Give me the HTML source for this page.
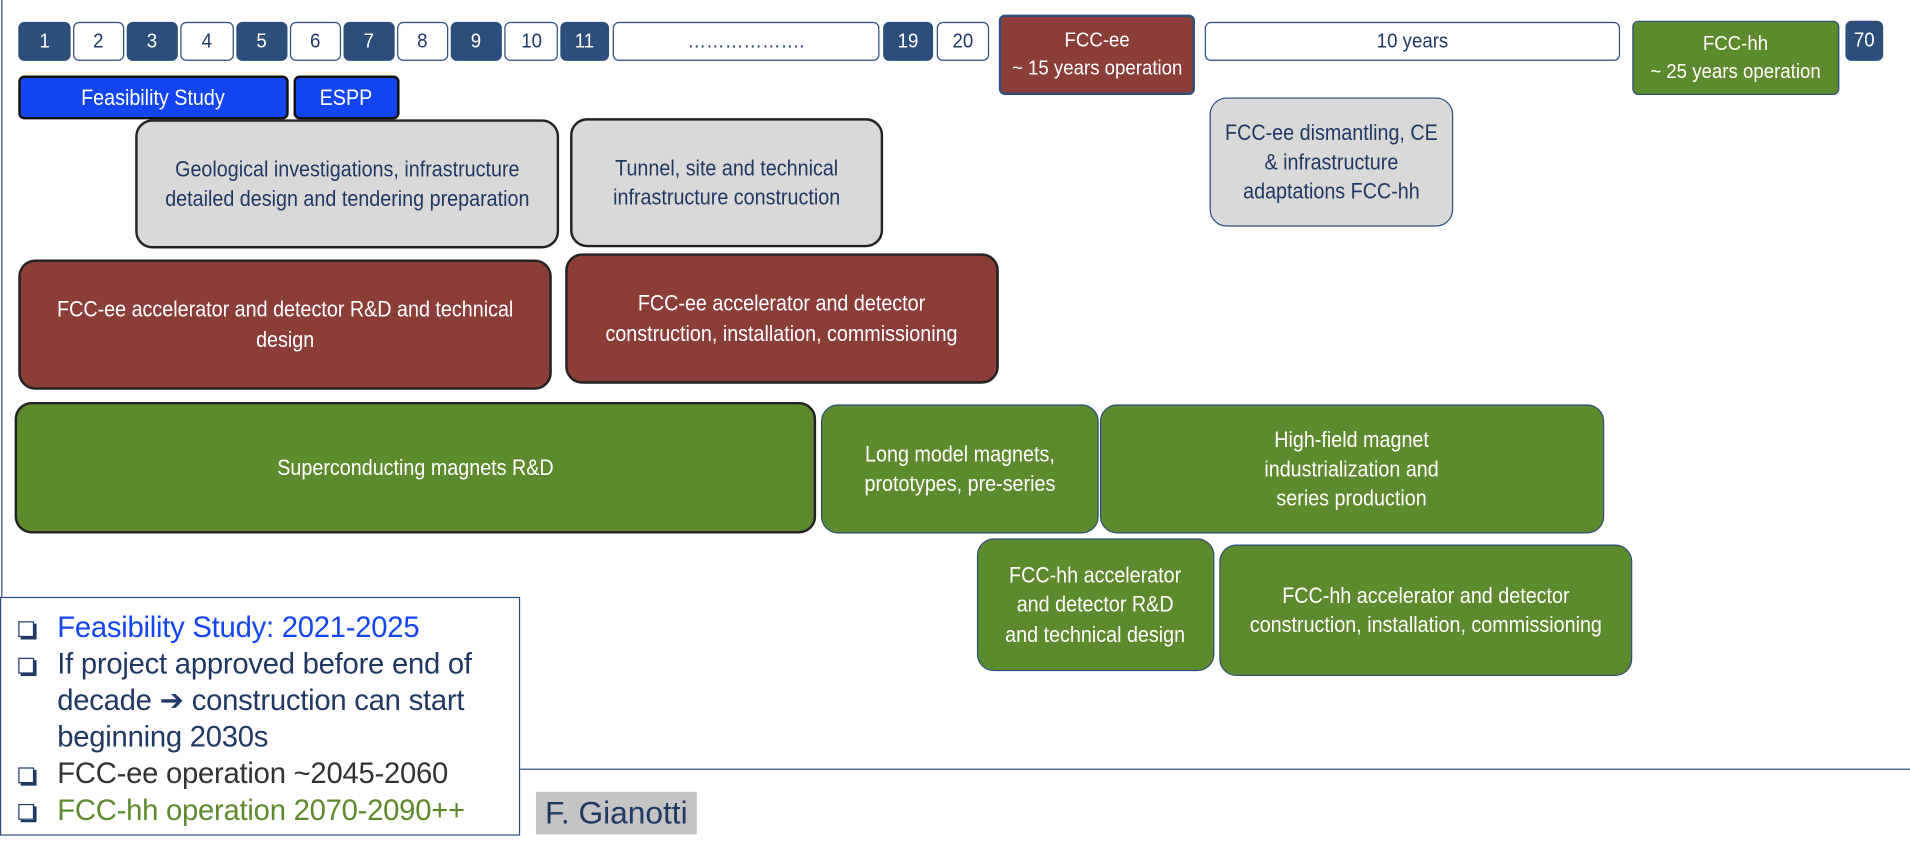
<!DOCTYPE html>
<html><head><meta charset="utf-8"><style>
html,body{margin:0;padding:0;background:#fff;width:1910px;height:840px;overflow:hidden}
#c{position:absolute;left:0;top:0;width:1568px;height:690px;transform:scale(1.2181);transform-origin:0 0;font-family:"Liberation Sans",sans-serif}
.b{position:absolute;box-sizing:border-box;display:flex;align-items:center;justify-content:center;text-align:center;border-radius:8px;line-height:1.35}
.b span{display:inline-block;transform:scaleX(.9);white-space:nowrap}
.d{background:#2d4e7a;color:#fff;border:1.5px solid #2d4e7a;font-size:17px;top:18px;height:32px;border-radius:5px}
.w{background:#fff;color:#1f3864;border:1.5px solid #2d4e7a;font-size:17px;top:18px;height:32px;border-radius:5px}
.g{background:#d9d9d9;color:#1f3864;border:2px solid #222;font-size:18px}
.r{background:#8b3d38;color:#fff;border:2px solid #222;font-size:18px}
.gr{background:#5e8a2e;color:#fff;border:1.5px solid #2d4e7a;font-size:18px}
.bl{background:#1346f0;color:#fff;border:2px solid #111;font-size:18px;border-radius:5px}
.leg{position:absolute;left:0;top:490px;width:427px;height:196px;box-sizing:border-box;border:1px solid #2d4e7a;font-family:"Liberation Sans",sans-serif;font-size:24px;line-height:30px;padding:10px 0 0 12px}
.leg div{position:relative;padding-left:34px;letter-spacing:-0.2px}
.leg div:before{content:"";position:absolute;left:2px;top:9px;width:11px;height:11px;border:1.5px solid #1f3864;box-shadow:2px 2px 0 #1f3864}
</style></head><body><div id="c">
<div style="position:absolute;left:1px;top:0;width:1px;height:490px;background:#2d4e7a"></div>
<div style="position:absolute;left:427px;top:631px;width:1141px;height:1px;background:#2d4e7a"></div>

<div class="b d" style="left:15px;width:43px"><span>1</span></div>
<div class="b w" style="left:60px;width:42px"><span>2</span></div>
<div class="b d" style="left:104px;width:42px"><span>3</span></div>
<div class="b w" style="left:148px;width:44px"><span>4</span></div>
<div class="b d" style="left:194px;width:42px"><span>5</span></div>
<div class="b w" style="left:238px;width:42px"><span>6</span></div>
<div class="b d" style="left:282px;width:42px"><span>7</span></div>
<div class="b w" style="left:326px;width:42px"><span>8</span></div>
<div class="b d" style="left:370px;width:42px"><span>9</span></div>
<div class="b w" style="left:414px;width:44px"><span>10</span></div>
<div class="b d" style="left:460px;width:40px"><span>11</span></div>
<div class="b w" style="left:503px;width:219px"><span>……………….</span></div>
<div class="b d" style="left:725px;width:41px"><span>19</span></div>
<div class="b w" style="left:769px;width:43px"><span>20</span></div>
<div class="b r" style="left:820px;top:12px;width:161px;height:66px;border-color:#2d4e7a;font-size:17px;border-radius:5px"><span>FCC-ee<br>~ 15 years operation</span></div>
<div class="b w" style="left:989px;width:341px"><span>10 years</span></div>
<div class="b gr" style="left:1340px;top:17px;width:170px;height:61px;font-size:17px;border-radius:5px"><span>FCC-hh<br>~ 25 years operation</span></div>
<div class="b d" style="left:1515px;top:17px;width:31px;height:33px"><span>70</span></div>

<div class="b bl" style="left:15px;top:62px;width:222px;height:36px"><span>Feasibility Study</span></div>
<div class="b bl" style="left:241px;top:62px;width:87px;height:36px"><span>ESPP</span></div>

<div class="b g" style="left:111px;top:98px;width:348px;height:106px;border-radius:14px"><span>Geological investigations, infrastructure<br>detailed design and tendering preparation</span></div>
<div class="b g" style="left:468px;top:97px;width:257px;height:106px;border-radius:14px"><span>Tunnel, site and technical<br>infrastructure construction</span></div>
<div class="b g" style="left:993px;top:80px;width:200px;height:106px;border:1.5px solid #2d4e7a;border-radius:14px"><span>FCC-ee dismantling, CE<br>&amp; infrastructure<br>adaptations FCC-hh</span></div>

<div class="b r" style="left:15px;top:213px;width:438px;height:107px;border-radius:14px"><span>FCC-ee accelerator and detector R&amp;D and technical<br>design</span></div>
<div class="b r" style="left:464px;top:208px;width:356px;height:107px;border-radius:14px"><span>FCC-ee accelerator and detector<br>construction, installation, commissioning</span></div>

<div class="b gr" style="left:12px;top:330px;width:658px;height:108px;border:2px solid #222;border-radius:14px"><span>Superconducting magnets R&amp;D</span></div>
<div class="b gr" style="left:674px;top:332px;width:228px;height:106px;border-radius:14px"><span>Long model magnets,<br>prototypes, pre-series</span></div>
<div class="b gr" style="left:903px;top:332px;width:414px;height:106px;border-radius:14px"><span>High-field magnet<br>industrialization and<br>series production</span></div>
<div class="b gr" style="left:802px;top:442px;width:195px;height:109px;border-radius:14px"><span>FCC-hh accelerator<br>and detector R&amp;D<br>and technical design</span></div>
<div class="b gr" style="left:1001px;top:447px;width:339px;height:108px;border-radius:14px"><span>FCC-hh accelerator and detector<br>construction, installation, commissioning</span></div>

<div class="leg">
<div style="color:#1346f0">Feasibility Study: 2021-2025</div>
<div style="color:#1f3864">If project approved before end of decade ➔ construction can start beginning 2030s</div>
<div style="color:#333">FCC-ee operation ~2045-2060</div>
<div style="color:#5e8a2e">FCC-hh operation 2070-2090++</div>
</div>
<div style="position:absolute;left:440px;top:650px;width:132px;height:35px;background:#c4c4c4;color:#1f3864;font-family:'Liberation Sans',sans-serif;font-size:26px;line-height:35px;text-align:center">F. Gianotti</div>
</div></body></html>
